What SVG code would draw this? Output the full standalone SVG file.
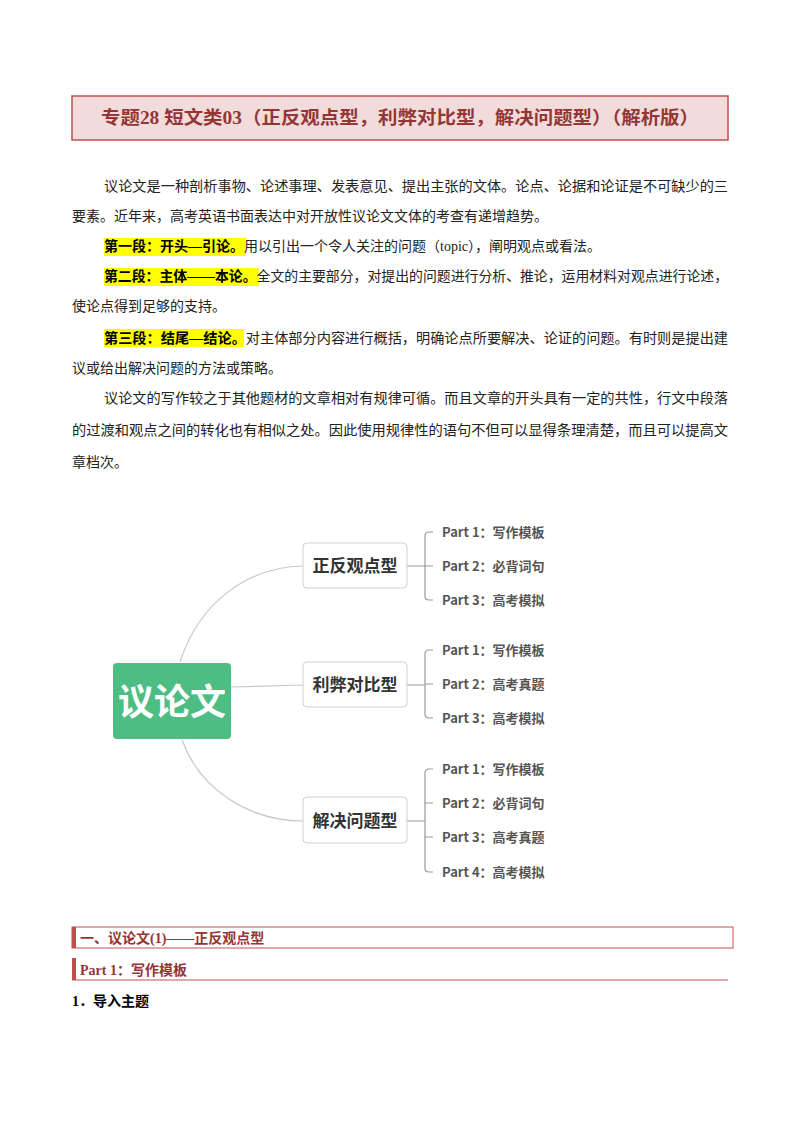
<svg xmlns="http://www.w3.org/2000/svg" width="800" height="1132" viewBox="0 0 800 1132">
<style>
.p{font-family:"Liberation Serif","Noto Sans CJK SC",serif;font-size:14px;fill:#222}
.b{font-weight:bold;fill:#000}
.hl{fill:#ffff00}
.br{fill:#fff;stroke:#d0d0d0;stroke-width:1}
.bt{font-family:"Noto Sans CJK SC",sans-serif;font-size:17px;font-weight:bold;fill:#333;text-anchor:middle}
.ch{font-family:"Noto Sans CJK SC",sans-serif;font-size:13px;font-weight:bold;fill:#555}
.ln{fill:none;stroke:#c8c8c8;stroke-width:1.2}
.bk{fill:none;stroke:#999;stroke-width:1.2}
.hd{font-family:"Liberation Serif","Noto Sans CJK SC",serif;font-size:14px;font-weight:bold;fill:#943634}
</style>
<rect width="800" height="1132" fill="#fff"/>
<g id="title">
<rect x="72" y="96" width="656" height="44" fill="#f2dbdb" stroke="#c0504d" stroke-width="1.5"/>
<text x="101" y="124" textLength="598" lengthAdjust="spacingAndGlyphs" font-family="Liberation Serif,Noto Sans CJK SC,serif" font-size="18" font-weight="bold" fill="#943634">专题28  短文类03（正反观点型，利弊对比型，解决问题型）（解析版）</text>
</g>
<g id="intro">
<rect class="hl" x="104" y="238" width="142" height="18"/>
<rect class="hl" x="104" y="268" width="155" height="18"/>
<rect class="hl" x="104" y="329" width="140" height="18"/>
<text class="p" x="104" y="191" textLength="624" lengthAdjust="spacingAndGlyphs">议论文是一种剖析事物、论述事理、发表意见、提出主张的文体。论点、论据和论证是不可缺少的三</text>
<text class="p" x="72" y="221">要素。近年来，高考英语书面表达中对开放性议论文文体的考查有递增趋势。</text>
<text class="p" x="104" y="251"><tspan class="b">第一段：开头—引论。</tspan>用以引出一个令人关注的问题（topic），阐明观点或看法。</text>
<text class="p" x="104" y="281" textLength="624" lengthAdjust="spacingAndGlyphs"><tspan class="b">第二段：主体——本论。</tspan>全文的主要部分，对提出的问题进行分析、推论，运用材料对观点进行论述，</text>
<text class="p" x="72" y="311">使论点得到足够的支持。</text>
<text class="p" x="104" y="343" textLength="624" lengthAdjust="spacingAndGlyphs"><tspan class="b">第三段：结尾—结论。</tspan>对主体部分内容进行概括，明确论点所要解决、论证的问题。有时则是提出建</text>
<text class="p" x="72" y="373">议或给出解决问题的方法或策略。</text>
<text class="p" x="104" y="403" textLength="624" lengthAdjust="spacingAndGlyphs">议论文的写作较之于其他题材的文章相对有规律可循。而且文章的开头具有一定的共性，行文中段落</text>
<text class="p" x="72" y="435" textLength="656" lengthAdjust="spacingAndGlyphs">的过渡和观点之间的转化也有相似之处。因此使用规律性的语句不但可以显得条理清楚，而且可以提高文</text>
<text class="p" x="72" y="467">章档次。</text>
</g>
<g id="connectors">
<path class="ln" d="M180 662 C 200 600, 250 567, 303 566"/>
<path class="ln" d="M231 687 L 303 685"/>
<path class="ln" d="M182 740 C 200 790, 250 821, 303 821"/>
<path class="bk" d="M407 566 H425 M429 532 Q425 532 425 536 V596 Q425 600 429 600 H433 M425 566 H433 M429 532 H433"/>
<path class="bk" d="M407 685 H425 M429 650 Q425 650 425 654 V714 Q425 718 429 718 H433 M425 684 H433 M429 650 H433"/>
<path class="bk" d="M407 821 H425 M429 769 Q425 769 425 773 V868 Q425 872 429 872 H433 M425 803 H433 M425 837 H433 M429 769 H433"/>
</g>
<g id="root">
<rect x="113" y="663" width="118" height="76" rx="4" fill="#4dbd84"/>
<text x="172" y="715" text-anchor="middle" font-family="Noto Sans CJK SC,sans-serif" font-size="36" font-weight="bold" fill="#fff">议论文</text>
</g>
<g id="n1"><rect class="br" x="303" y="543" width="104" height="45" rx="4"/><text class="bt" x="355" y="572">正反观点型</text></g>
<g id="n2"><rect class="br" x="303" y="662" width="104" height="45" rx="4"/><text class="bt" x="355" y="691">利弊对比型</text></g>
<g id="n3"><rect class="br" x="303" y="797" width="104" height="46" rx="4"/><text class="bt" x="355" y="827">解决问题型</text></g>
<g id="c1">
<text class="ch" x="442" y="537">Part 1：写作模板</text>
<text class="ch" x="442" y="571">Part 2：必背词句</text>
<text class="ch" x="442" y="605">Part 3：高考模拟</text>
</g>
<g id="c2">
<text class="ch" x="442" y="655">Part 1：写作模板</text>
<text class="ch" x="442" y="689">Part 2：高考真题</text>
<text class="ch" x="442" y="723">Part 3：高考模拟</text>
</g>
<g id="c3">
<text class="ch" x="442" y="774">Part 1：写作模板</text>
<text class="ch" x="442" y="808">Part 2：必背词句</text>
<text class="ch" x="442" y="842">Part 3：高考真题</text>
<text class="ch" x="442" y="877">Part 4：高考模拟</text>
</g>
<g id="section">
<rect x="72" y="927" width="661" height="21" fill="none" stroke="#c0504d" stroke-width="1"/>
<rect x="72" y="927" width="4" height="21" fill="#c0504d"/>
<text class="hd" x="80" y="943">一、议论文(1)——正反观点型</text>
<rect x="72" y="958" width="4" height="22" fill="#c0504d"/>
<line x1="72" y1="980" x2="728" y2="980" stroke="#c0504d" stroke-width="1"/>
<text class="hd" x="80" y="975" font-weight="normal">Part 1：<tspan font-weight="bold">写作模板</tspan></text>
<text class="p b" x="72" y="1006">1．导入主题</text>
</g>
</svg>
